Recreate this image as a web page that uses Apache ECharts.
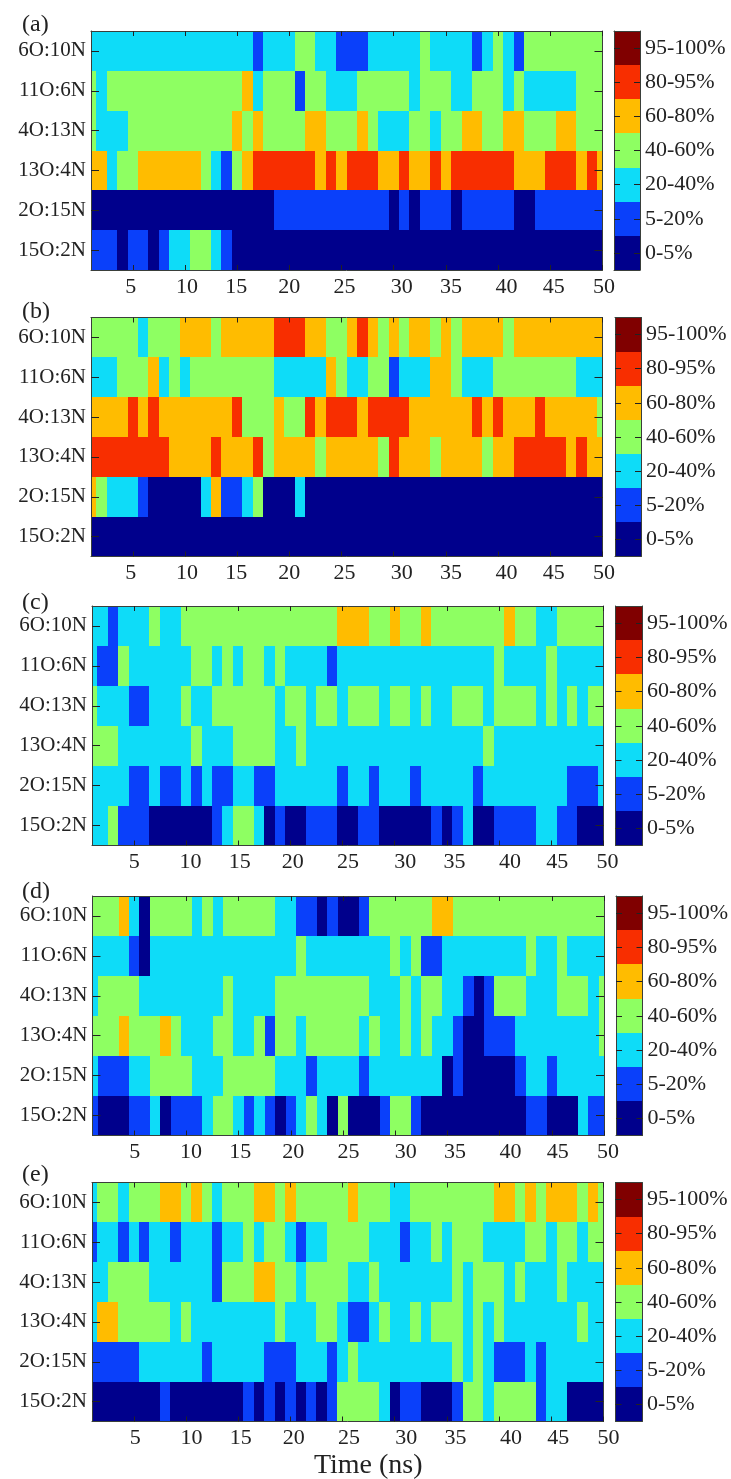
<!DOCTYPE html>
<html><head><meta charset="utf-8">
<style>html,body{margin:0;padding:0;background:#fff}#c{width:731px;height:1479px}</style>
<script src="https://cdn.jsdelivr.net/npm/echarts@6/dist/echarts.min.js"></script>
</head><body><div id="c"></div>
<script>
// Level of each cell: 0 = 0-5% ... 6 = 95-100%. One string per species, 50 time steps (spaces only group equal runs).
const species = ["6O:10N","11O:6N","4O:13N","13O:4N","2O:15N","15O:2N"];
const levelLabels = ["0-5%","5-20%","20-40%","40-60%","60-80%","80-95%","95-100%"];
const levelColors = ["#00008c","#0a40fa","#0edcf8","#8eff62","#ffbc00","#f82e00","#800000"];
const xTicks = [5,10,15,20,25,30,35,40,45,50];
const panelNames = ["(a)","(b)","(c)","(d)","(e)"];

const panelA = [
"2222222222222222 1 222 33 22 111 22222 3 2222 1 2 3 2 1 33333333",
"3 2 3333333333333 4 2 333 1 33 222 33333 2 333 22 333 2 3 22222 333",
"3 222 3333333333 4 3 4 3333 44 333 4 3 222 33 2 33 44 33 44 333 44 333",
"44 2 33 444444 3 2 1 3 4 555555 4 5 4 555 44 5 44 5 4 555555 444 555 4 5 4",
"000000000000000000 11111111111 0 1 0 111 0 11111 00 1111111",
"111 0 11 0 1 22 33 2 1 000000000000000000000000000000000000"];
const panelB = [
"33333 2 333 444 3 44444 555 44 33 4 5 4 3 4 3 44 3 4 3 4444 3 444444444",
"222 333 4 2 3 2 33333333 22222 4 3 22 33 1 222 44 3 222 33333333 222",
"4444 5 4 5 4444444 5 333 4 33 5 4 555 4 5555 444444 5 4 5 444 5 44444 3",
"55555555 4444 5 444 5 3 4444 3 44444 3 5 444 3 4444 3 44 55555 4 5 44",
"4 3 222 1 00000 2 4 11 2 3 000 2 00000000000000000000000000000",
"00000000000000000000000000000000000000000000000000"];
const panelC = [
"22 1 222 3 22 333333333333333 444 33 4 33 4 3333333 4 33 22 33333",
"2 11 3 222222 33 2 3 2 33 2 3 2222 1 222222222222222 3 2222 3 22222",
"3 222 11 222 3 22 333333 2 33 2 33 2 333 2 33 2 3 22 333 2 3333 2 3 2 3 2 33",
"333 2222222 3 222 3333 22 3 22222222222222222 3 22222222222",
"2222 11 2 11 2 1 2 11 22 11 222222 1 22 1 222 1 22222 1 22222222 111 2",
"22 3 111 000000 1 2 33 2 0 1 00 111 00 11 00000 1 0 1 2 00 1111 22 11 000"];
const panelD = [
"333 4 2 0 3333 2 3 2 33333 22 11 0 1 00 1 333333 44 333333333333333",
"2222 1 0 22222222222222 3 22222222 3 2 3 11 22222222 3 22 3 2222",
"2 3333 22222222 3 2222 333333333 222 3 2 33 22 1 0 1 333 222 333 2 3",
"333 4 333 4 3 222 33 22 3 1 33 2 33333 2 3 22 3 2 3 22 1 00 111 22222222 3",
"2 111 22 3333 222 33333 222 1 2222 1 2222222 0 1 00000 1 22 1 22222",
"1 000 11 2 0 111 2 33 2 1 2 1 0 1 2 3 2 0 3 000 1 33 1 0000000000 11 000 2 11"];
const panelE = [
"2 33 2 333 44 3 4 3 2 333 44 3 4 33333 4 333 22 33333333 44 3 4 3 444 3 4 3",
"1 22 1 2 1 22 1 222 1 22 3 2 33 2 1 22 3333 222 1 22 3 2 333 2222 33 2 33 2 33",
"22 3333 222222 1 333 44 33 2 3333 22 3 2222222 3 2 333 2 3 222 3 2222",
"2 44 33333 2 3 22222222 3 222 33 2 11 2 3 22 3 2 333 2 3 2 3 2222222 3 22",
"11111 222222 1 22222 111 222 1 2 3 222222222 3 2 3 2 111 2 1 222222",
"0000000 1 0000000 1 0 1 0 1 0 1 0 1 3333 2 0 11 000 1 33 2 3333 1 22 0000"];
const panels = [panelA,panelB,panelC,panelD,panelE];

// Layout (pixels): plot box and colour bar of each panel
const boxes = [
 {l:91,r:602.5,t:31,b:270,  cl:614,  cr:640,  lx:0, ty:25},
 {l:91,r:602.5,t:317.5,b:556.5, cl:615, cr:641, lx:0, ty:312},
 {l:92,r:603.5,t:606,b:845.5, cl:615.5,cr:642, lx:2.5, ty:603},
 {l:92.5,r:604,t:896,b:1135.5, cl:616, cr:642.5, lx:2.5, ty:892},
 {l:92,r:603.5,t:1182.5,b:1421.5, cl:615.5,cr:642, lx:3.5, ty:1175}];
const labelNudge = [-2,2,-1,0,3,8,5,8.5,3.5,1.5];
const FONT = "Liberation Serif", INK = "#222222", FRAME = "#3a3f3a";

function renderCell(params, api){
  const c = api.coord([api.value(0), api.value(1)]);
  const s = api.size([1,1]);
  const x0 = Math.round(c[0]-s[0]/2), x1 = Math.round(c[0]+s[0]/2);
  const y0 = Math.round(c[1]-s[1]/2), y1 = Math.round(c[1]+s[1]/2);
  const shape = echarts.graphic.clipRectByRect({x:x0,y:y0,width:x1-x0,height:y1-y0},
    {x:params.coordSys.x,y:params.coordSys.y,width:params.coordSys.width,height:params.coordSys.height});
  return shape && {type:'rect',shape,style:{fill:levelColors[api.value(2)]}};
}

const grid=[],xAxis=[],yAxis=[],series=[],title=[];
const line={show:true,onZero:false,lineStyle:{color:FRAME,width:1}};
panels.forEach((panel,k)=>{
  const b=boxes[k];
  const data=[];
  panel.forEach((row,ri)=>{
    const cells=row.replace(/ /g,"");
    if(cells.length!==50) throw new Error("panel "+k+" row "+ri+" has "+cells.length);
    for(let i=0;i<50;i++) data.push([i+1,ri,+cells[i]]);
  });
  const g=grid.length;
  grid.push({left:b.l,top:b.t,width:b.r-b.l,height:b.b-b.t,containLabel:false,outerBoundsMode:'none'});
  const rich={};
  xTicks.forEach((v,i)=>{
    const d=(labelNudge[i]+b.lx)*2;
    rich["s"+v]={fontFamily:FONT,fontSize:22,color:INK,padding:d>=0?[0,0,0,d]:[0,-d,0,0]};
  });
  const xi=xAxis.length, yi=yAxis.length;
  const xBase={type:'value',gridIndex:g,min:1,max:50,z:10,splitLine:{show:false},axisLine:line,
    axisTick:{show:true,inside:true,length:5,customValues:xTicks,lineStyle:{color:INK}}};
  xAxis.push(Object.assign({},xBase,{position:'bottom',
    axisLabel:{show:true,customValues:xTicks,margin:6,hideOverlap:false,formatter:v=>`{s${v}|${v}}`,rich},
    ...(k===4?{name:"Time (ns)",nameLocation:'middle',nameGap:30,
      nameTextStyle:{fontFamily:FONT,fontSize:28,color:INK,padding:[0,0,0,41]}}:{})}));
  xAxis.push(Object.assign({},xBase,{position:'top',axisLabel:{show:false}}));
  const yBase={type:'category',gridIndex:g,data:species,inverse:true,z:10,splitLine:{show:false},axisLine:line,
    axisTick:{show:true,inside:true,length:8,alignWithLabel:true,lineStyle:{color:INK}}};
  yAxis.push(Object.assign({},yBase,{position:'left',
    axisLabel:{show:true,margin:5,fontFamily:FONT,fontSize:21,color:INK}}));
  yAxis.push(Object.assign({},yBase,{position:'right',axisLabel:{show:false}}));
  series.push({type:'custom',name:panelNames[k],coordinateSystem:'cartesian2d',xAxisIndex:xi,yAxisIndex:yi,
    renderItem:renderCell,encode:{x:0,y:1},data,silent:true,animation:false});
  title.push({text:panelNames[k],left:22,top:b.ty-12,padding:0,textStyle:{fontFamily:FONT,fontSize:24,fontWeight:'normal',color:INK}});
});
// Colour bars
panels.forEach((panel,k)=>{
  const b=boxes[k];
  const g=grid.length;
  grid.push({left:b.cl,top:b.t,width:b.cr-b.cl,height:b.b-b.t,outerBoundsMode:'none'});
  const xi=xAxis.length, yi=yAxis.length;
  const xBase={type:'value',gridIndex:g,min:0,max:1,z:10,splitLine:{show:false},axisLine:line,axisTick:{show:false},axisLabel:{show:false}};
  xAxis.push(Object.assign({},xBase,{position:'bottom'}),Object.assign({},xBase,{position:'top'}));
  const yBase={type:'category',gridIndex:g,data:levelLabels,z:10,splitLine:{show:false},axisLine:line,
    axisTick:{show:true,inside:true,length:6,alignWithLabel:true,lineStyle:{color:INK}}};
  yAxis.push(Object.assign({},yBase,{position:'left',axisLabel:{show:false}}));
  yAxis.push(Object.assign({},yBase,{position:'right',
    axisLabel:{show:true,margin:5,fontFamily:FONT,fontSize:22,color:INK,padding:[0,0,3,0]}}));
  series.push({type:'custom',coordinateSystem:'cartesian2d',xAxisIndex:xi,yAxisIndex:yi,
    renderItem:renderCell,encode:{x:0,y:1},silent:true,animation:false,
    data:levelLabels.map((_,i)=>[0.5,i,i])});
});
const chart=echarts.init(document.getElementById('c'),null,{renderer:'canvas'});
chart.setOption({animation:false,backgroundColor:'#ffffff',title,grid,xAxis,yAxis,series,tooltip:{show:false}});
</script></body></html>
